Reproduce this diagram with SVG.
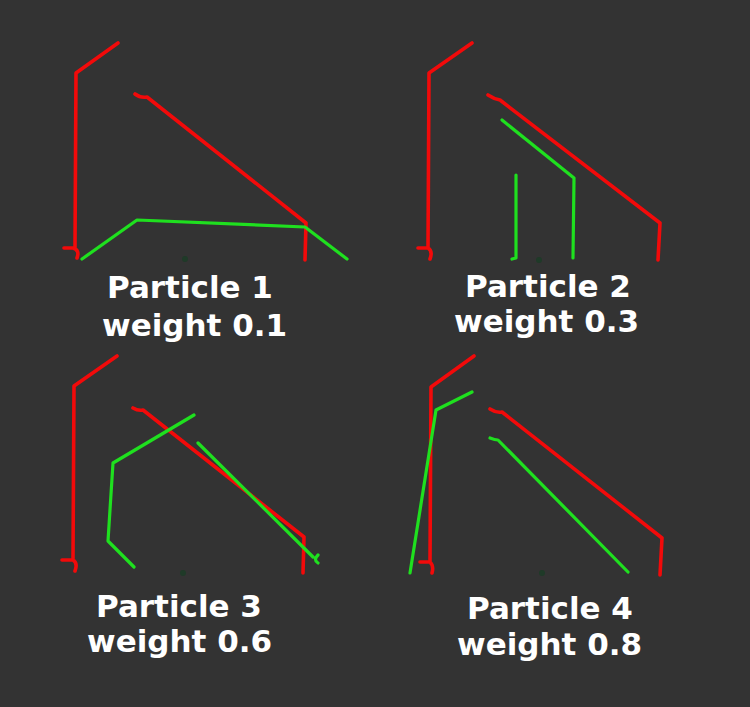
<svg xmlns="http://www.w3.org/2000/svg" width="750" height="707" viewBox="0 0 750 707">
<style>
.r{fill:none;stroke:#f20a0a;stroke-width:3.6;stroke-linecap:round;stroke-linejoin:round}
.g{fill:none;stroke:#1fe01f;stroke-width:3.2;stroke-linecap:round;stroke-linejoin:round}
.d{fill:#1f3a28}
.t{font-family:"DejaVu Sans",sans-serif;font-weight:bold;font-size:31px;fill:#ffffff}
</style>
<rect width="750" height="707" fill="#333333"/>
<g id="particle1">
<path class="r" d="M118,43 L76,73 L75,248 M64,248 L73,248 Q80,250 77,258 M135,94 Q140,98 147,97 L306,223 L305,260"/>
<path class="g" d="M82,259 L137,220 L305,227 L347,259"/>
<circle class="d" cx="185" cy="259" r="3"/>
<text class="t" x="107" y="298">Particle 1</text>
<text class="t" x="102" y="336">weight 0.1</text>
</g>
<g id="particle2">
<path class="r" d="M472,43 L429,73 L428,248 M418,248 L428,248 Q433,251 430,259 M488,95 Q494,99 500,100 L660,223 L658,260"/>
<path class="g" d="M502,120 L574,178 L573,258 M516,175 L516,258 L512,259"/>
<circle class="d" cx="539" cy="260" r="3"/>
<text class="t" x="465" y="297">Particle 2</text>
<text class="t" x="454" y="332">weight 0.3</text>
</g>
<g id="particle3">
<path class="r" d="M117,356 L74,386 L73,560 M62,560 L73,560 Q78,563 75,571 M133,408 Q138,411 143,410 L304,537 L303,573"/>
<path class="g" d="M194,415 L113,463 L108,541 L134,567 M198,443 L313,557 M318,555 Q313,560 318,563"/>
<circle class="d" cx="183" cy="573" r="3"/>
<text class="t" x="96" y="617">Particle 3</text>
<text class="t" x="87" y="652">weight 0.6</text>
</g>
<g id="particle4">
<path class="r" d="M474,356 L431,387 L430,562 M420,562 L430,562 Q434,566 432,573 M490,409 Q496,413 502,412 L662,538 L660,575"/>
<path class="g" d="M410,573 L436,410 L472,392 M490,438 Q495,440 498,440 L628,572"/>
<circle class="d" cx="542" cy="573" r="3"/>
<text class="t" x="467" y="619">Particle 4</text>
<text class="t" x="457" y="655">weight 0.8</text>
</g>
</svg>
